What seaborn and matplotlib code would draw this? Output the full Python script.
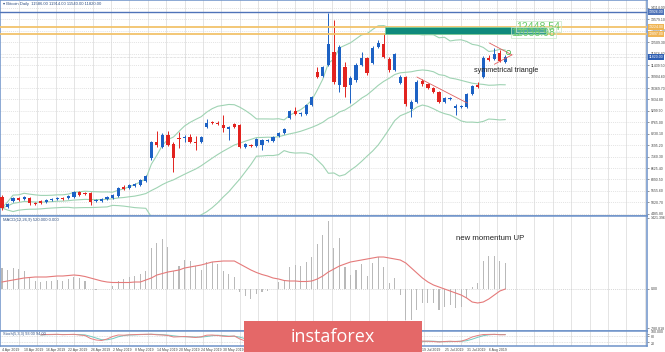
import numpy as np
import pandas as pd
import matplotlib
matplotlib.use("Agg")
import matplotlib.pyplot as plt
import matplotlib.transforms as mtrans
from matplotlib.patches import Rectangle
import seaborn as sns

sns.set_theme(style="white")
plt.rcParams['font.family'] = ['Liberation Sans', 'DejaVu Sans']

# ---------------- data ----------------
dates = pd.bdate_range("2019-04-04", periods=92)
open_ = [5268,4800,5081,5222,5175,5222,4988,5081,5034,5128, 5175,5222,5222,5268,5502,5456,5456,5081,5081,5175,
         5222,5315,5736,5690,5783,5830,6017,7094,7842,7608, 8170,7749,8030,8030,8076,7842,7842,8545,8778,8732,
         8638,8451,8685,8638,7608,7702,7655,7702,7889,7889, 8123,8264,8966,9293,9153,9153,9574,11118,10931,11446,
         12054,10510,11352,10510,10744,11446,11774,11540,12288,12429, 11727,11212,10604,10884,9387,9714,10697,10557,10370,10182,
         9714,9855,9434,9480,9480,10089,10510,10884,11774,11727, 12008,11586]
high = [5362,4988,5268,5268,5315,5268,5034,5128,5175,5222, 5268,5268,5362,5549,5549,5502,5502,5175,5222,5315,
        5409,5736,5830,5877,5924,6111,6298,7889,8358,8264, 8358,7842,8310,8170,8217,8123,8123,8919,8825,8825,
        9106,8592,8732,8685,7796,7749,8030,7983,7983,8123, 8310,8498,9340,9480,9246,9621,9995,11352,11399,13880,
        13552,12382,11586,10931,11540,12054,11820,12335,12616,12944, 11820,12008,10978,10931,9808,10744,10791,10604,10416,10229,
        9948,9948,9621,9574,10136,10510,10650,11867,11914,12242, 12148,11914]
low = [4660,4754,5034,5081,5128,4894,4894,4941,4988,5081, 5128,5128,5175,5222,5315,5362,4894,5034,5034,5128,
       5175,5268,5596,5643,5736,5783,5970,7000,7608,7562, 7655,6438,7562,7842,7796,7468,7796,8498,8685,8638,
       8310,7936,8498,7562,7562,7608,7608,7468,7842,7842, 8076,8217,8919,9106,9059,9106,9527,10838,10884,11399,
       10557,10182,9948,9668,10650,11399,10978,11493,12242,11774, 11118,11165,10557,9527,9012,9668,10463,10323,10136,9668,
       9668,9808,9106,9434,9434,10042,10370,10838,11633,11680, 11586,11540]
close = [4754,4941,5222,5128,5268,4988,4941,4988,5128,5175, 5222,5175,5315,5502,5362,5409,5034,5128,5175,5268,
         5362,5690,5643,5830,5877,6064,6251,7842,7702,8170, 7702,7094,7983,8076,7842,7796,8076,8732,8732,8685,
         8498,8545,8545,7608,7749,7655,7983,7936,7936,8076, 8264,8451,9293,9153,9200,9574,9948,10884,11352,12429,
         10650,12288,10416,10838,11446,11774,11072,12242,12476,11820, 11212,11961,10884,9621,9714,10650,10557,10370,10182,9714,
         9902,9902,9527,9527,10089,10463,10416,11774,11680,11961, 11633,11820]

macd_main = [414,380,420,400,360,240,160,140,160,160, 180,160,200,240,220,160,10,-20,6,10,
             60,160,200,240,260,300,360,820,920,1000, 840,360,460,580,560,460,380,540,540,500,
             360,300,240,-60,-140,-200,-100,-60,-40,6, 140,160,440,480,460,540,640,900,1080,1360,
             820,1020,440,280,380,500,260,520,640,440, 120,220,-120,-620,-620,-420,-280,-280,-280,-420,
             -360,-320,-380,-360,-180,40,120,560,660,660, 560,520]
macd_signal = [140,160,180,200,220,230,240,240,240,250, 260,260,270,280,270,250,220,190,160,140,
               130,130,130,130,140,140,180,220,280,310, 340,360,380,420,440,460,480,510,540,550,
               560,560,560,500,440,380,330,290,260,220, 200,170,160,160,150,150,160,200,260,340,
               400,460,500,540,560,580,600,620,640,640, 620,600,580,520,420,320,220,140,80,40,
               0,-40,-80,-120,-180,-260,-280,-260,-200,-120, -40,0]
nan = np.nan
stoch_k = [nan,nan,nan,nan,nan,nan,nan,92,95,96, 97,93,95,97,90,85,55,40,35,50,
           75,90,88,92,94,96,97,98,92,90, 85,70,72,75,70,65,72,88,90,85,
           78,75,80,50,30,28,45,50,55,65, 80,90,95,92,90,95,97,96,95,97,
           80,75,55,45,55,70,60,75,85,75, 55,60,40,20,15,25,30,28,25,20,
           25,28,25,28,45,70,85,95,96,97, 92,93]
stoch_d = [nan,nan,nan,nan,nan,nan,nan,90,93,94, 96,95,95,95,94,91,77,60,43,42,
           53,72,84,90,91,94,96,97,96,93, 89,82,76,72,72,70,69,75,83,88,
           84,79,78,68,53,36,34,41,50,57, 67,78,88,92,92,92,94,96,96,96,
           91,84,70,58,52,57,62,68,73,78, 72,63,52,40,25,20,23,28,28,24,
           23,24,26,27,33,48,67,83,92,96, 95,94]

blue_level = 13926
orange_levels = [13224, 12897]
zone_label_1 = "12448.54"
zone_label_2 = "12038.98"

df = pd.DataFrame({"date": dates, "open": open_, "high": high, "low": low, "close": close,
                   "macd": macd_main, "signal": macd_signal, "k": stoch_k, "d": stoch_d})
df["i"] = np.arange(len(df))
mid = df["close"].rolling(20, min_periods=1).mean()
sd = df["close"].rolling(20, min_periods=1).std(ddof=0)
df["bb_mid"], df["bb_up"], df["bb_lo"] = mid, mid + 2 * sd, mid - 2 * sd

# ---------------- layout ----------------
W, H = 665, 352
fig = plt.figure(figsize=(W / 100, H / 100), dpi=100)
fig.patch.set_facecolor("white")

def px_axes(x0, y0, x1, y1):
    return fig.add_axes([x0 / W, 1 - y1 / H, (x1 - x0) / W, (y1 - y0) / H])

ax1 = px_axes(0, 0, 647, 216)
ax2 = px_axes(0, 216, 647, 331)
ax3 = px_axes(0, 331, 647, 346)

XL = (-0.36, 116.6)
frame_c = "#6d92c9"
grid_c = "#d9d9d9"
lab_fs = 2.5
vgrid = np.arange(3.07, 117, 3.327)
for ax in (ax1, ax2, ax3):
    ax.set_xlim(*XL)
    ax.set_facecolor("white")
    for s in ax.spines.values():
        s.set_color(frame_c)
        s.set_linewidth(1.1)
    ax.yaxis.tick_right()
    ax.tick_params(axis="y", labelsize=lab_fs, length=1.5, pad=1, colors="#444444", width=0.4)
    ax.tick_params(axis="x", length=0)
    for gx in vgrid:
        ax.axvline(gx, color=grid_c, lw=0.5, zorder=0)

ax1.set_xticks([]); ax2.set_xticks([])

# ---------------- main panel ----------------
ymin, ymax = 4380, 14488
ax1.set_ylim(ymin, ymax)
ticks = 14114 - 534.9 * np.arange(0, 19)
ax1.set_yticks(ticks)
ax1.set_yticklabels([f"{t:.2f}" for t in ticks])
for t in ticks:
    ax1.axhline(t, color=grid_c, lw=0.5, ls=(0, (1.5, 1.5)), zorder=0)

x = df["i"].values
o, h, l, c = (df[k].values for k in ("open", "high", "low", "close"))
up = c >= o
cols = np.where(up, "#1d62c4", "#e2231f")
ax1.vlines(x, l, h, colors=cols, lw=0.7, zorder=3)
body_lo = np.minimum(o, c)
body_h = np.maximum(np.abs(c - o), 45)
ax1.bar(x, body_h, bottom=body_lo, width=0.58, color=cols, linewidth=0, zorder=4)

band_c = "#9fd3b3"
for col in ("bb_up", "bb_mid", "bb_lo"):
    sns.lineplot(data=df, x="i", y=col, ax=ax1, color=band_c, lw=0.8, zorder=2)
ax1.set_xlabel(""); ax1.set_ylabel("")

ax1.axhline(blue_level, color="#4f73b8", lw=1.0, zorder=5)
for lv in orange_levels:
    ax1.axhline(lv, color="#f2c36b", lw=1.3, zorder=5)
ax1.add_patch(Rectangle((69.3, orange_levels[1]), 29.0, orange_levels[0] - orange_levels[1],
                        facecolor="#0f8a7c", edgecolor="#7fd0a0", lw=0.6, zorder=6))
ax1.text(93.0, 13230, zone_label_1, fontsize=7.6, color="#6acb6a", va="center", ha="left", zorder=8,
         bbox=dict(boxstyle="square,pad=0.05", fc=(1, 1, 1, 0.15), ec="#c7e8c7", lw=0.5))
ax1.text(92.1, 12950, zone_label_2, fontsize=7.6, color="#6acb6a", va="center", ha="left", zorder=8,
         bbox=dict(boxstyle="square,pad=0.05", fc=(1, 1, 1, 0.15), ec="#c7e8c7", lw=0.5))

# trend lines
ax1.plot([75.0, 84.1], [10884, 9668], color="#e06060", lw=0.6, zorder=5)
ax1.plot([88.1, 92.2], [12476, 11920], color="#e06060", lw=0.6, zorder=5)
ax1.plot([89.0, 92.2], [11480, 11920], color="#e06060", lw=0.6, zorder=5)
ax1.plot([91.4], [12060], marker="o", ms=3, mfc="none", mec="#55bb55", mew=0.6, zorder=7)
ax1.text(85.4, 11210, "symmetrical triangle", fontsize=5.2, color="#222222", ha="left", va="center", zorder=8)

# price labels on right axis
tr = mtrans.blended_transform_factory(ax1.transAxes, ax1.transData)
def axis_tag(val, fc, txt, tc="white"):
    ax1.text(1.003, val, txt, transform=tr, fontsize=lab_fs, color=tc, ha="left", va="center",
             bbox=dict(boxstyle="square,pad=0.15", fc=fc, ec="none"), clip_on=False, zorder=9)
axis_tag(blue_level, "#4f73b8", f"{blue_level:.2f}")
for lv in orange_levels:
    axis_tag(lv, "#f0b555", f"{lv:.2f}")
axis_tag(close[-1], "#2f5fb3", f"{close[-1]:.2f}")
ax1.axhline(close[-1], color="#aaaaaa", lw=0.4, ls=(0, (1, 1.5)), zorder=1)

ax1.text(0.004, 0.99, "\u25be Bitcoin Daily  11586.00 11914.00 11540.00 11820.00", transform=ax1.transAxes,
         fontsize=3.0, color="#2d4d80", ha="left", va="top")

# ---------------- MACD panel ----------------
ax2.set_ylim(-840, 1460)
ax2.bar(x, df["macd"], width=0.2, color="#b9b9b9", linewidth=0, zorder=2)
sns.lineplot(data=df, x="i", y="signal", ax=ax2, color="#e57a7a", lw=0.8, zorder=3)
ax2.set_xlabel(""); ax2.set_ylabel("")
ax2.axhline(0, color="#c8c8c8", lw=0.5, ls=(0, (1.5, 1.5)), zorder=1)
ax2.set_yticks([1420, 0, -780])
ax2.set_yticklabels(["1421.396", "0.00", "-780.818"])
ax2.text(0.004, 0.985, "MACD(12,26,9) 520.000 0.000", transform=ax2.transAxes,
         fontsize=3.0, color="#2d4d80", ha="left", va="top")
ax2.text(82.0, 1000, "new momentum UP", fontsize=5.6, color="#222222", ha="left", va="center", zorder=8)

# ---------------- Stochastic panel ----------------
ax3.set_ylim(-20, 130)
sns.lineplot(data=df, x="i", y="d", ax=ax3, color="#74c9c0", lw=0.7)
sns.lineplot(data=df, x="i", y="k", ax=ax3, color="#e58080", lw=0.7)
ax3.set_xlabel(""); ax3.set_ylabel("")
for lv in (80, 20):
    ax3.axhline(lv, color="#c8c8c8", lw=0.4, ls=(0, (1.5, 1.5)), zorder=0)
ax3.set_yticks([100, 80, 20])
ax3.set_yticklabels(["100.000", "80", "20"])
ax3.get_yticklabels()[0].set_va("bottom")
ax3.get_yticklabels()[2].set_va("top")
ax3.text(0.004, 0.9, "Stoch(5,3,3) 93.00 94.00", transform=ax3.transAxes,
         fontsize=2.8, color="#2d4d80", ha="left", va="top")
tick_idx = list(range(0, 92, 4))
ax3.set_xticks(tick_idx)
ax3.set_xticklabels([f"{d.day} {d.strftime('%b %Y')}" for d in df["date"].iloc[tick_idx]],
                    fontsize=2.5, color="#444444", ha="left")
ax3.tick_params(axis="x", pad=1.2)

# ---------------- watermark box ----------------
fig.patches.append(Rectangle((244 / W, 0), (422 - 244) / W, (352 - 321) / H, transform=fig.transFigure,
                             facecolor="#e46868", edgecolor="none", zorder=20))
fig.text(333 / W, 1 - 336.5 / H, "instaforex", fontsize=13, color="white", ha="center", va="center",
         family=["Open Sans", "DejaVu Sans"], zorder=21)

fig.savefig("out.png", dpi=100, facecolor="white")
